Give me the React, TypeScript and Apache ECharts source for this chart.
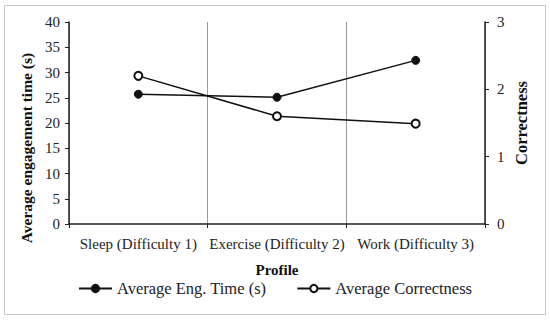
import React, { useEffect, useRef } from "react";
import * as echarts from "echarts";

const categories = ["Sleep (Difficulty 1)", "Exercise (Difficulty 2)", "Work (Difficulty 3)"];
const engTime = [25.7, 25.1, 32.4];
const correctness = [2.2, 1.6, 1.49];
const leftTicks = { min: 0, max: 40, interval: 5 };
const rightTicks = { min: 0, max: 3, interval: 1 };
const leftTitle = "Average engagement time (s)";
const rightTitle = "Correctness";
const xTitle = "Profile";

const FONT = "Liberation Serif";

export default function App() {
  const ref = useRef<HTMLDivElement>(null);
  useEffect(() => {
    const chart = echarts.init(ref.current!, null, { renderer: "svg" });
    chart.setOption({
      animation: false,
      backgroundColor: "#fff",
      textStyle: { fontFamily: FONT, color: "#222" },
      graphic: [
        {
          type: "rect",
          shape: { x: 4.5, y: 5.5, width: 541, height: 309 },
          style: { fill: "none", stroke: "#c8c8c8", lineWidth: 1 },
          silent: true,
        },
        {
          type: "text",
          x: 26,
          y: 148,
          rotation: Math.PI / 2,
          style: {
            text: leftTitle,
            fontFamily: FONT,
            fontSize: 15.5,
            fontWeight: "bold",
            fill: "#111",
            align: "center",
            verticalAlign: "middle",
          },
        },
        {
          type: "text",
          x: 521,
          y: 123,
          rotation: Math.PI / 2,
          style: {
            text: rightTitle,
            fontFamily: FONT,
            fontSize: 16.5,
            fontWeight: "bold",
            fill: "#111",
            align: "center",
            verticalAlign: "middle",
          },
        },
      ],
      grid: { left: 69, right: 65, top: 22, bottom: 97 },
      legend: {
        bottom: 19,
        left: "center",
        itemWidth: 33,
        itemHeight: 9,
        itemGap: 30,
        textStyle: { fontFamily: FONT, fontSize: 16.5, color: "#222" },
        data: ["Average Eng. Time (s)", "Average Correctness"],
      },
      xAxis: {
        type: "category",
        data: categories,
        boundaryGap: true,
        name: xTitle,
        nameLocation: "middle",
        nameGap: 38,
        nameTextStyle: { fontFamily: FONT, fontSize: 15, fontWeight: "bold", color: "#111" },
        axisLine: { lineStyle: { color: "#222", width: 1.5 } },
        axisTick: { show: true, length: 4, lineStyle: { color: "#222" } },
        axisLabel: { fontFamily: FONT, fontSize: 15, color: "#222", margin: 12, interval: 0 },
        splitLine: { show: true, interval: 0, lineStyle: { color: "#999", width: 1 } },
      },
      yAxis: [
        {
          type: "value",
          min: leftTicks.min,
          max: leftTicks.max,
          interval: leftTicks.interval,
          position: "left",
          axisLine: { show: true, lineStyle: { color: "#222", width: 1.5 } },
          axisTick: { show: true, length: 4, lineStyle: { color: "#222" } },
          axisLabel: { fontFamily: FONT, fontSize: 15, color: "#222", margin: 9 },
          splitLine: { show: false },
        },
        {
          type: "value",
          min: rightTicks.min,
          max: rightTicks.max,
          interval: rightTicks.interval,
          position: "right",
          axisLine: { show: true, lineStyle: { color: "#222", width: 1.5 } },
          axisTick: { show: true, length: 4, lineStyle: { color: "#222" } },
          axisLabel: { fontFamily: FONT, fontSize: 15, color: "#222", margin: 12 },
          splitLine: { show: false },
        },
      ],
      series: [
        {
          name: "Average Eng. Time (s)",
          type: "line",
          yAxisIndex: 0,
          data: engTime,
          symbol: "circle",
          symbolSize: 8,
          lineStyle: { color: "#111", width: 1.5 },
          itemStyle: { color: "#111", borderColor: "#111", borderWidth: 1 },
        },
        {
          name: "Average Correctness",
          type: "line",
          yAxisIndex: 1,
          data: correctness,
          symbol: "circle",
          symbolSize: 8,
          lineStyle: { color: "#111", width: 1.5 },
          itemStyle: { color: "#fff", borderColor: "#111", borderWidth: 2 },
        },
      ],
    });
    return () => chart.dispose();
  }, []);
  return (
    <div
      ref={ref}
      style={{ position: "fixed", left: 0, top: 0, width: 550, height: 321 }}
    />
  );
}
